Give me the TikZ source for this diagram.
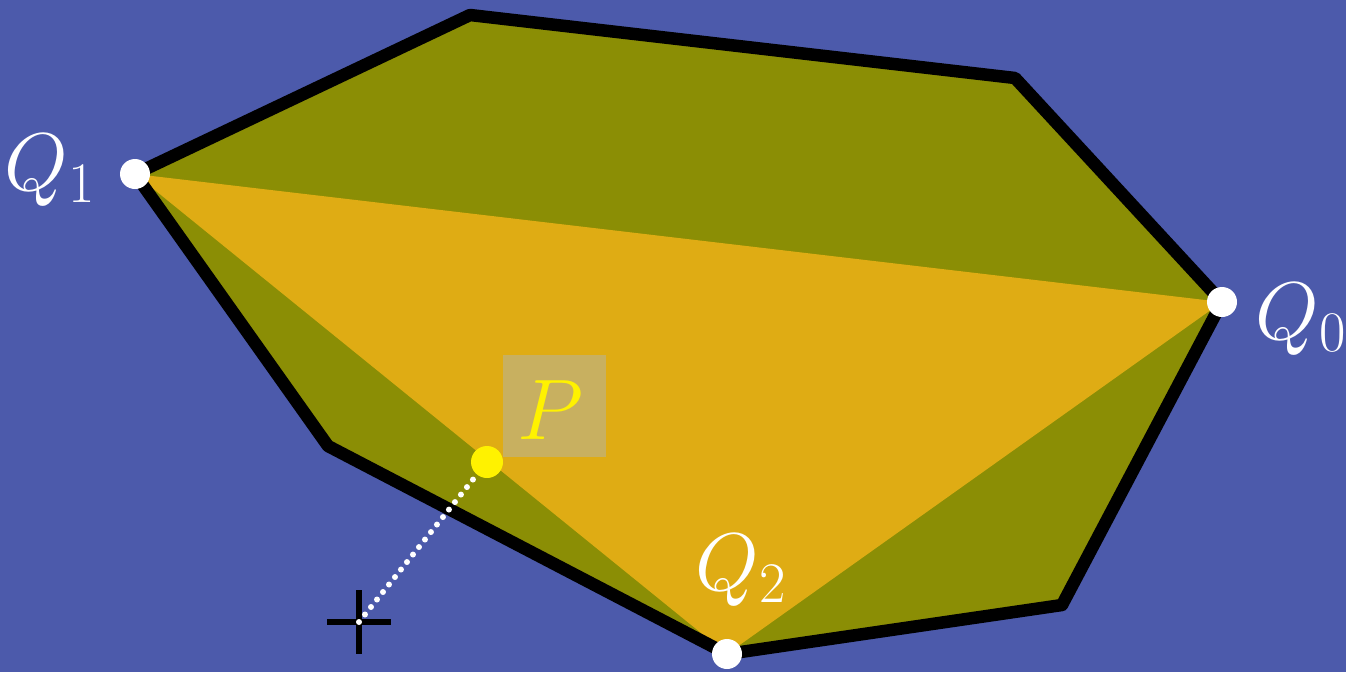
\RequirePackage{fix-cm}
\documentclass[tikz,border=0pt]{standalone}
\begin{document}
\begin{tikzpicture}[x=1pt,y=-1pt,
  vtx/.style={circle,fill=white,minimum size=30pt,inner sep=0pt},
  qlabel/.style={text=white,inner sep=0pt,anchor=base,font=\fontsize{82}{96}\selectfont},
]
\definecolor{bg}{HTML}{4C5AAB}
\definecolor{olive}{HTML}{8B8E05}
\definecolor{tri}{HTML}{DFAC14}
\definecolor{pbox}{HTML}{C8B060}
\fill[bg] (0,0) rectangle (1346,672);
\useasboundingbox (0,0) rectangle (1346,672);
\coordinate (q1) at (135,174);
\coordinate (tl) at (470,15);
\coordinate (tr) at (1015,78);
\coordinate (q0) at (1222,302);
\coordinate (br) at (1062,605);
\coordinate (q2) at (727,654);
\coordinate (bl) at (328,446);
\fill[olive] (q1)--(tl)--(tr)--(q0)--(br)--(q2)--(bl)--cycle;
\fill[tri] (q1)--(q0)--(q2)--cycle;
\draw[line width=12.5pt,line join=round] (q1)--(tl)--(tr)--(q0)--(br)--(q2)--(bl)--cycle;
\node[vtx] (Q1) at (q1) {};
\node[vtx] (Q0) at (q0) {};
\node[vtx] (Q2) at (q2) {};
\node[qlabel] (L1) at (50,190) {$Q_1$};
\node[qlabel] (L0) at (1301,339) {$Q_0$};
\node[qlabel] (L2) at (741,590) {$Q_2$};
\node[fill=pbox,minimum width=103pt,minimum height=102pt,inner sep=0pt] (pb) at (554.5,406) {};
\node[text=yellow,inner sep=0pt,anchor=base,font=\fontsize{86}{100}\selectfont] (PL) at (550,439) {$P$};
\coordinate (c) at (359,622);
\node[circle,fill=yellow,minimum size=32pt,inner sep=0pt] (P) at (487,462) {};
\draw[line width=6pt] (327,622)--(391,622) (359,590)--(359,654);
\draw[white,line width=6pt,line cap=round,dash pattern=on 0pt off 9.6pt] (c)--(P);
\end{tikzpicture}
\end{document}
